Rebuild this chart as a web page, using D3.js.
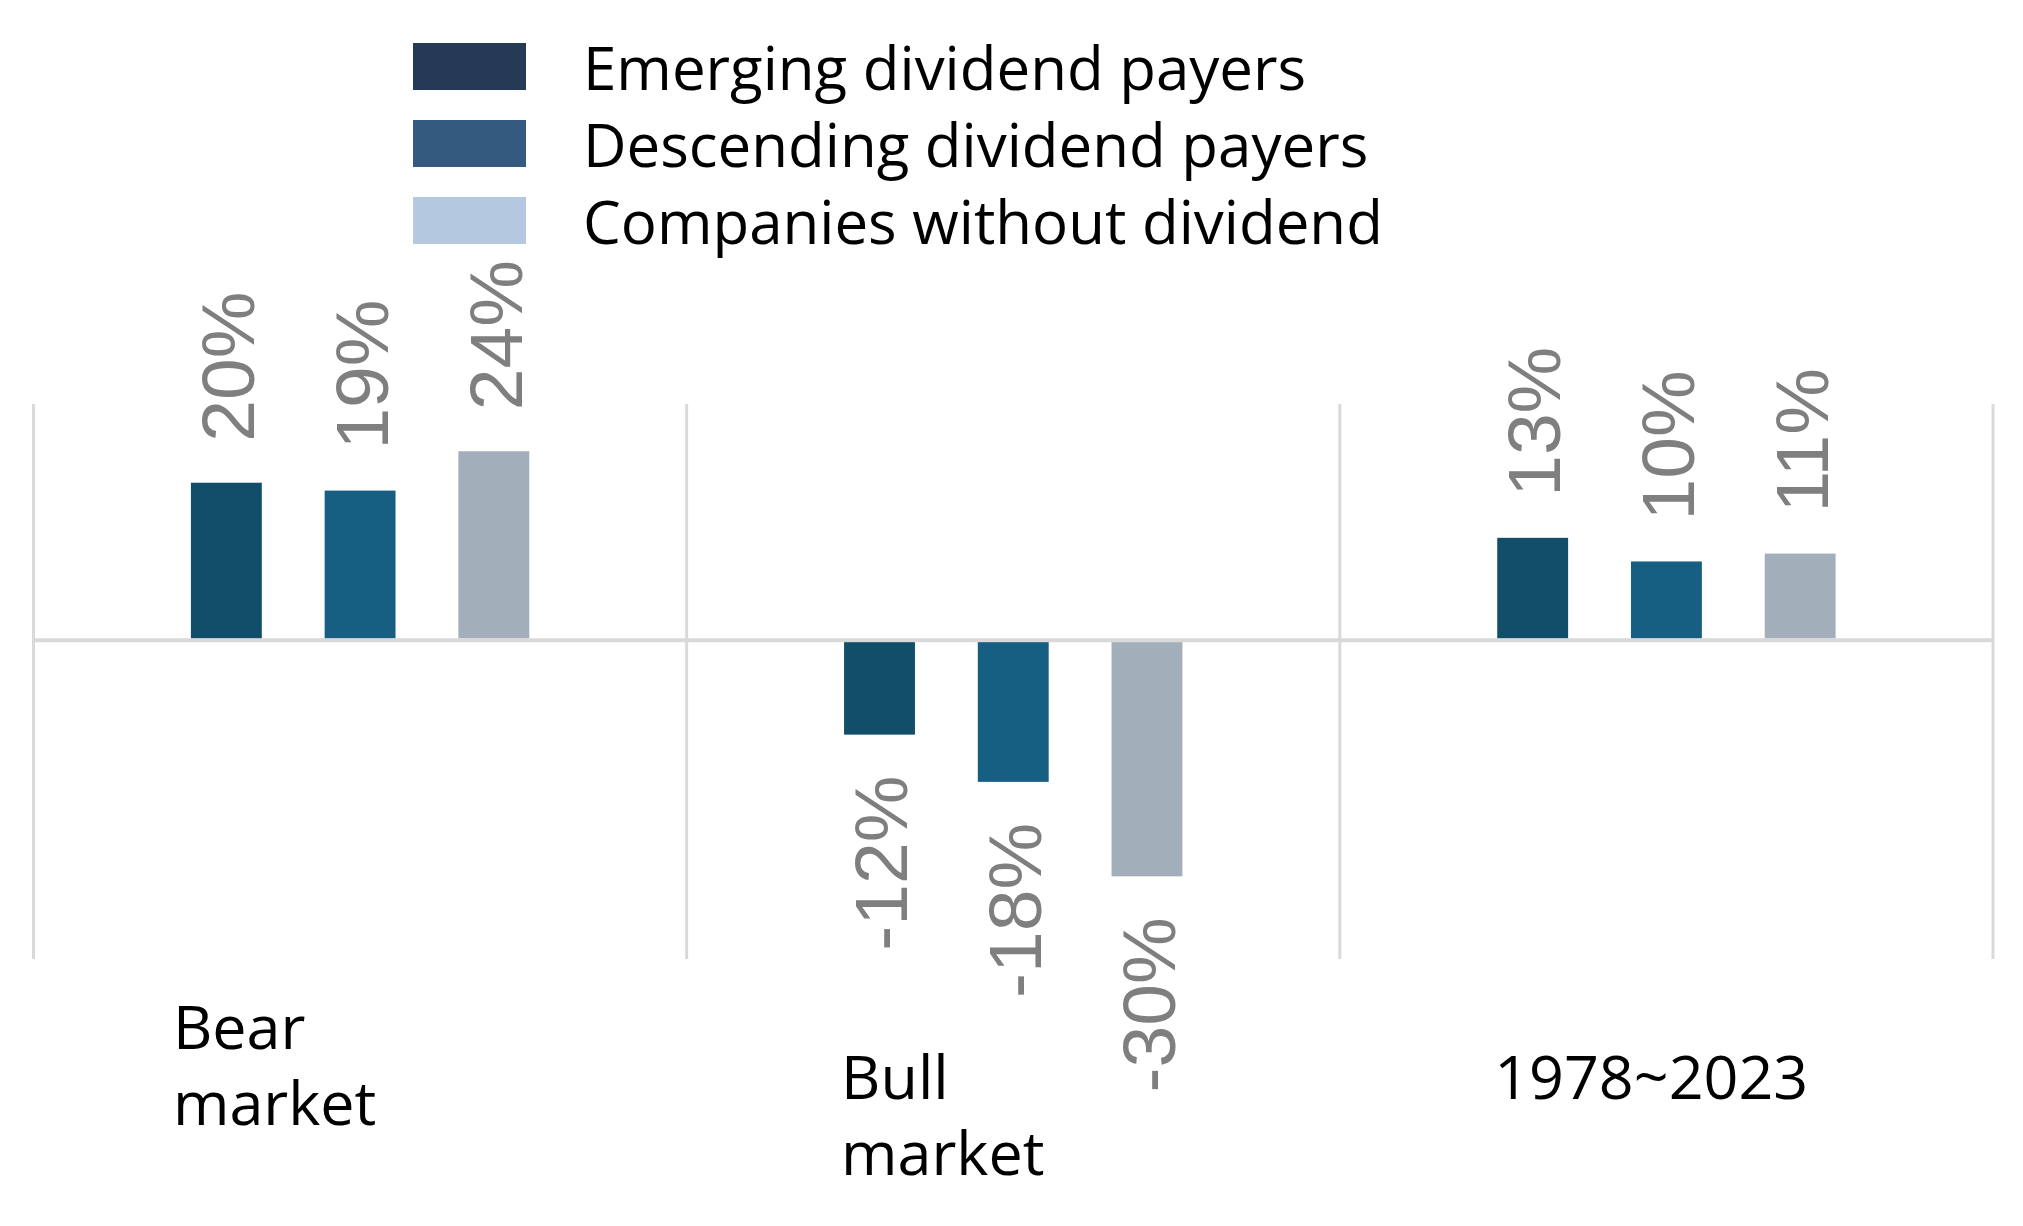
<!DOCTYPE html>
<html>
<head>
<meta charset="utf-8">
<script src="https://cdn.jsdelivr.net/npm/d3@7"></script>
<style>
    body { margin: 0; background: #fff; }
    .valueLabel { font-family: "Liberation Sans", Arial, sans-serif; fill: #7f7f7f; }
    .catLabel, .legendText { font-family: "Open Sans", "Noto Sans", sans-serif; fill: #000; }
</style>
</head>
<body>
<div id="chart"></div>
<script>
// data
var categories = ["Bear market", "Bull market", "1978~2023"];
var categoryLines = [["Bear", "market"], ["Bull", "market"], ["1978~2023"]];
var seriesNames = ["Emerging dividend payers", "Descending dividend payers", "Companies without dividend"];
var emergingValues = [20, -12, 13];
var descendingValues = [19, -18, 10];
var withoutValues = [24, -30, 11];

var barColors = ["#104e6a", "#175f82", "#a2afba"];
var legendColors = ["#253b55", "#355a80", "#b4c9e0"];

createChart("#chart", 2023, 1226);

function createChart(eleDiv, w, h) {
    var svg = d3.select(eleDiv).append("svg")
        .attr("width", w)
        .attr("height", h);

    var values = [emergingValues, descendingValues, withoutValues];
    var rows = categories.map(function (c, i) {
        return {
            cat: c,
            lines: categoryLines[i],
            vals: seriesNames.map(function (s, j) { return { series: s, idx: j, value: values[j][i] }; })
        };
    });

    // setup x (groups, then bars inside a group)
    var x0 = d3.scaleBand().domain(categories).range([33.5, 1993]).padding(0);
    var x1 = d3.scaleBand().domain(seriesNames).range([0, x0.bandwidth()])
        .paddingInner(0.47).paddingOuter(1.177);

    // setup y
    var y = d3.scaleLinear().domain([-40.5, 30]).range([959, 404]);

    // grid: vertical separators + zero line
    var bounds = categories.map(function (c) { return x0(c); }).concat([x0.range()[1]]);
    svg.append("g").attr("class", "grid")
        .selectAll("line")
        .data(bounds)
        .enter().append("line")
        .attr("x1", function (d) { return d; })
        .attr("x2", function (d) { return d; })
        .attr("y1", y(30))
        .attr("y2", y(-40.5))
        .style("stroke", "#d9d9d9")
        .style("stroke-width", 3);

    svg.append("line")
        .attr("x1", x0.range()[0]).attr("x2", x0.range()[1])
        .attr("y1", y(0)).attr("y2", y(0))
        .style("stroke", "#d9d9d9")
        .style("stroke-width", 4);

    // bars
    var groups = svg.selectAll(".grp")
        .data(rows)
        .enter().append("g")
        .attr("class", "grp")
        .attr("transform", function (d) { return "translate(" + x0(d.cat) + ",0)"; });

    groups.selectAll("rect")
        .data(function (d) { return d.vals; })
        .enter().append("rect")
        .attr("x", function (d) { return x1(d.series); })
        .attr("width", x1.bandwidth())
        .attr("y", function (d) { return d.value >= 0 ? y(d.value) : y(0) + 2; })
        .attr("height", function (d) { return Math.abs(y(d.value) - y(0)) - 2; })
        .style("fill", function (d) { return barColors[d.idx]; });

    // value labels, rotated
    groups.selectAll(".valueLabel")
        .data(function (d) { return d.vals; })
        .enter().append("text")
        .attr("class", "valueLabel")
        .attr("transform", function (d) {
            var cx = x1(d.series) + x1.bandwidth() / 2;
            var cy = d.value >= 0 ? y(d.value) - 41 : y(d.value) + 41;
            return "translate(" + cx + "," + cy + ") rotate(-90)";
        })
        .attr("dy", "0.37em")
        .style("font-size", "75px")
        .style("text-anchor", function (d) { return d.value >= 0 ? "start" : "end"; })
        .text(function (d) { return d.value + "%"; });

    // category labels
    var labelTweak = { "Bear market": { dx: -15, dy: -50 } };
    groups.append("text")
        .attr("class", "catLabel")
        .style("font-size", "61px")
        .each(function (d) {
            var t = labelTweak[d.cat] || { dx: 0, dy: 0 };
            var lx = x1(seriesNames[0]) - 3 + t.dx;
            var ly = 1099 + t.dy;
            d3.select(this).selectAll("tspan")
                .data(d.lines)
                .enter().append("tspan")
                .attr("x", lx)
                .attr("y", function (l, i) { return ly + i * 76; })
                .text(function (l) { return l; });
        });

    // legend
    var legend = svg.append("g").attr("class", "legend")
        .selectAll("g")
        .data(seriesNames)
        .enter().append("g")
        .attr("transform", function (d, i) { return "translate(413," + (90 + i * 77) + ")"; });

    legend.append("rect")
        .attr("x", 0)
        .attr("y", -47)
        .attr("width", 113)
        .attr("height", 47)
        .style("fill", function (d, i) { return legendColors[i]; });

    legend.append("text")
        .attr("class", "legendText")
        .attr("x", 170)
        .attr("y", 0)
        .style("font-size", "60px")
        .text(function (d) { return d; });
}
</script>
</body>
</html>
